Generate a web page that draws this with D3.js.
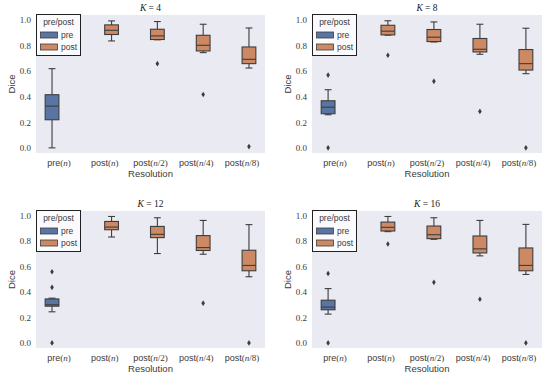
<!DOCTYPE html>
<html><head><meta charset="utf-8">
<script src="https://cdn.jsdelivr.net/npm/d3@7"></script>
<style>body{margin:0;background:#fff}svg{display:block}</style>
</head><body>
<svg id="c" width="550" height="379"></svg>
<script>
// ---- data ----
const kValues = [4, 8, 12, 16];
const tickPrefix = ["pre", "post", "post", "post", "post"];
const tickArg = ["n", "n", "n/2", "n/4", "n/8"];
const hue = ["pre", "post", "post", "post", "post"];
const hueLevels = ["pre", "post"];
const yTicks = [0.0, 0.2, 0.4, 0.6, 0.8, 1.0];
// [whisker low, q1, median, q3, whisker high]
const stats_K4  = [[0.000,0.219,0.325,0.414,0.617],[0.833,0.883,0.916,0.958,0.989],[0.842,0.844,0.872,0.924,0.984],[0.742,0.755,0.799,0.877,0.963],[0.622,0.656,0.690,0.786,0.934]];
const outliers_K4  = [[],[],[0.656],[0.416],[0.010]];
const stats_K8  = [[0.258,0.266,0.317,0.367,0.453],[0.878,0.880,0.909,0.955,0.990],[0.825,0.828,0.862,0.922,0.981],[0.729,0.747,0.768,0.852,0.963],[0.578,0.606,0.656,0.766,0.932]];
const outliers_K8  = [[0.567,0.000],[0.721],[0.518],[0.284],[0.000]];
const stats_K12 = [[0.244,0.288,0.299,0.345,0.351],[0.831,0.888,0.909,0.953,0.992],[0.701,0.826,0.852,0.914,0.982],[0.696,0.725,0.748,0.842,0.961],[0.519,0.566,0.608,0.727,0.928]];
const outliers_K12 = [[0.558,0.436,0.000],[],[],[0.312],[0.000]];
const stats_K16 = [[0.226,0.260,0.281,0.335,0.426],[0.873,0.878,0.907,0.948,0.992],[0.813,0.818,0.849,0.917,0.982],[0.683,0.706,0.738,0.839,0.961],[0.537,0.566,0.608,0.745,0.930]];
const outliers_K16 = [[0.545,0.000],[0.776],[0.475],[0.343],[0.000]];

const panelStats = [stats_K4, stats_K8, stats_K12, stats_K16];
const panelOutliers = [outliers_K4, outliers_K8, outliers_K12, outliers_K16];

// ---- layout ----
const panels = [
  {x0: 36, x1: 265, y0: 15, y1: 153},
  {x0: 312, x1: 542, y0: 15, y1: 153},
  {x0: 36, x1: 265, y0: 211, y1: 348},
  {x0: 312, x1: 542, y0: 211, y1: 348}
];
const hueColor = d3.scaleOrdinal().domain(hueLevels).range(["#5875a4", "#cc8963"]);
const lineColor = "#3d3d3d";
const textColor = "#3a3a3a";
const SANS = "'Liberation Sans', Arial, sans-serif";
const SERIF = "'Liberation Serif', 'DejaVu Serif', serif";

const svg = d3.select("#c");

panels.forEach((p, pi) => {
  const g = svg.append("g");
  const x = d3.scaleBand().domain(d3.range(tickPrefix.length)).range([p.x0, p.x1]).padding(0);
  const y = d3.scaleLinear().domain([-0.04, 1.035]).range([p.y1, p.y0]);
  const bw = x.bandwidth();
  const off = d3.scaleOrdinal().domain(hueLevels).range([-0.15 * bw, 0.15 * bw]);
  const boxW = 0.3 * bw;

  g.append("rect").attr("x", p.x0).attr("y", p.y0).attr("width", p.x1 - p.x0).attr("height", p.y1 - p.y0).attr("fill", "#eaeaf2");

  // y axis
  const ya = g.append("g").attr("transform", `translate(${p.x0},0)`)
    .call(d3.axisLeft(y).tickValues(yTicks).tickFormat(d3.format(".1f")).tickSize(0).tickPadding(5));
  ya.select(".domain").remove();
  ya.selectAll("text").attr("font-family", SERIF).attr("font-size", 9).attr("fill", textColor);

  // x axis
  const xa = g.append("g").attr("transform", `translate(0,${p.y1})`)
    .call(d3.axisBottom(x).tickSize(0).tickPadding(7).tickFormat(""));
  xa.select(".domain").remove();
  xa.selectAll(".tick text").each(function(d) {
    const t = d3.select(this).attr("font-size", 9).attr("fill", textColor).attr("dy", "0.71em");
    t.append("tspan").attr("font-family", SANS).text(tickPrefix[d]);
    t.append("tspan").attr("font-family", SERIF).text("(");
    const a = tickArg[d];
    t.append("tspan").attr("font-family", SERIF).attr("font-style", "italic").text(a[0]);
    if (a.length > 1) t.append("tspan").attr("font-family", SERIF).text(a.slice(1));
    t.append("tspan").attr("font-family", SERIF).text(")");
  });

  // axis labels
  g.append("text").attr("x", (p.x0 + p.x1) / 2).attr("y", p.y1 + 24).attr("text-anchor", "middle")
    .attr("font-family", SANS).attr("font-size", 9.5).attr("fill", textColor).text("Resolution");
  g.append("text").attr("transform", `translate(${p.x0 - 21},${(p.y0 + p.y1) / 2}) rotate(-90)`)
    .attr("text-anchor", "middle").attr("font-family", SANS).attr("font-size", 9.5).attr("fill", textColor).text("Dice");

  // title
  const tt = g.append("text").attr("x", (p.x0 + p.x1) / 2).attr("y", p.y0 - 4).attr("text-anchor", "middle")
    .attr("font-family", SERIF).attr("font-size", 9.5).attr("fill", "#222");
  tt.append("tspan").attr("font-style", "italic").text("K");
  tt.append("tspan").text(" = " + kValues[pi]);

  // boxes
  const st = panelStats[pi];
  const ol = panelOutliers[pi];
  st.forEach((s, i) => {
    const cx = x(i) + bw / 2 + off(hue[i]);
    const bg = g.append("g");
    bg.append("line").attr("x1", cx).attr("x2", cx).attr("y1", y(s[0])).attr("y2", y(s[1])).attr("stroke", lineColor).attr("stroke-width", 1.1);
    bg.append("line").attr("x1", cx).attr("x2", cx).attr("y1", y(s[3])).attr("y2", y(s[4])).attr("stroke", lineColor).attr("stroke-width", 1.1);
    [s[0], s[4]].forEach(v => bg.append("line").attr("x1", cx - boxW / 4).attr("x2", cx + boxW / 4)
      .attr("y1", y(v)).attr("y2", y(v)).attr("stroke", lineColor).attr("stroke-width", 1.1));
    bg.append("rect").attr("x", cx - boxW / 2).attr("y", y(s[3])).attr("width", boxW).attr("height", y(s[1]) - y(s[3]))
      .attr("fill", hueColor(hue[i])).attr("stroke", lineColor).attr("stroke-width", 1.1);
    bg.append("line").attr("x1", cx - boxW / 2).attr("x2", cx + boxW / 2).attr("y1", y(s[2])).attr("y2", y(s[2]))
      .attr("stroke", lineColor).attr("stroke-width", 1.1);
    ol[i].forEach(v => {
      const yy = y(v);
      bg.append("path").attr("d", `M${cx},${yy - 2.8}L${cx + 1.8},${yy}L${cx},${yy + 2.8}L${cx - 1.8},${yy}Z`).attr("fill", lineColor);
    });
  });

  // legend
  const lx = p.x0, ly = p.y0 - 1;
  const lg = g.append("g").attr("transform", `translate(${lx},${ly})`);
  lg.append("rect").attr("x", 0.5).attr("y", 0.5).attr("width", 44).attr("height", 41)
    .attr("fill", "#ffffff").attr("fill-opacity", 0.8).attr("stroke", "#222").attr("stroke-width", 1);
  lg.append("text").attr("x", 22.5).attr("y", 11).attr("text-anchor", "middle").attr("font-family", SANS).attr("font-size", 8.5).attr("fill", textColor).text("pre/post");
  hueLevels.forEach((h, j) => {
    const ry = 18 + j * 12;
    lg.append("rect").attr("x", 4.5).attr("y", ry).attr("width", 17).attr("height", 6).attr("fill", hueColor(h)).attr("stroke", lineColor).attr("stroke-width", 0.8);
    lg.append("text").attr("x", 25).attr("y", ry + 6).attr("font-family", SANS).attr("font-size", 8.5).attr("fill", textColor).text(h);
  });
});
</script>
</body></html>
